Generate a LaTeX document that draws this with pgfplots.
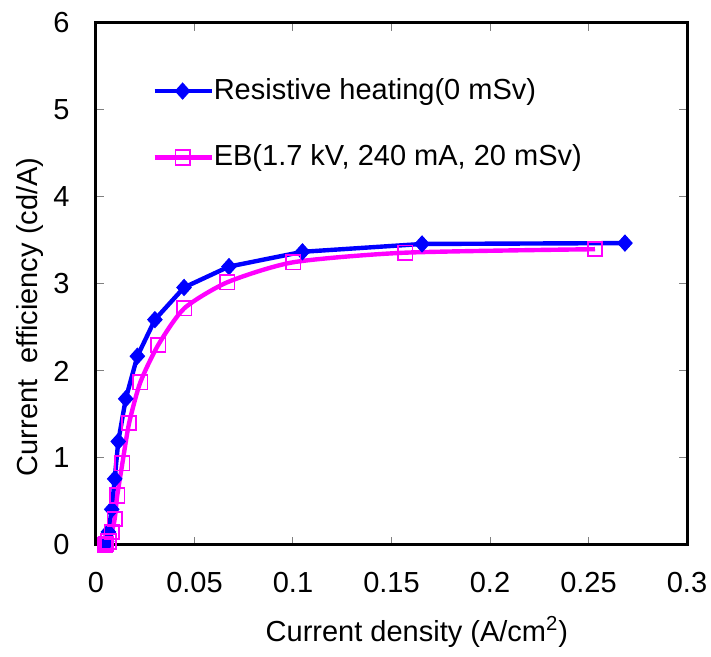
\documentclass[border=0pt]{standalone}
\usepackage{fontspec}
\setmainfont{Liberation Sans}
\usepackage{pgfplots}
\pgfplotsset{compat=1.18}
\definecolor{myblue}{RGB}{0,0,255}
\definecolor{mymag}{RGB}{255,0,255}
\begin{document}
\fontsize{14.5}{17}\selectfont
\begin{tikzpicture}
\begin{axis}[
  scale only axis,
  width=295.5pt, height=261pt,
  xmin=0, xmax=0.3, ymin=0, ymax=6,
  xtick={0,0.05,0.1,0.15,0.2,0.25,0.3},
  ytick={0,1,2,3,4,5,6},
  scaled x ticks=false,
  /pgf/number format/assume math mode=true,
  xticklabel style={/pgf/number format/fixed, /pgf/number format/precision=2, inner sep=0pt, anchor=north, yshift=-13.5pt},
  yticklabel style={inner sep=0pt, anchor=east, xshift=-13pt},
  tick align=inside,
  major tick length=4pt,
  tick style={gray, line width=0.5pt},
  axis line style={line width=1.5pt},
  every axis x label/.style={at={(axis description cs:0.543,-0.1667)}, anchor=center},
  every axis y label/.style={at={(axis description cs:-0.112,0.437)}, anchor=center, rotate=90},
  xlabel={Current density (A/cm\textsuperscript{2})},
  ylabel={Current\ \ efficiency (cd/A)},
  legend cell align=left,
  legend style={draw=none, fill=none, inner sep=0pt, row sep=20.5pt,
    at={(axis description cs:0,1)}, anchor=north west, xshift=28pt, yshift=-27.5pt,
    nodes={inner xsep=0pt, inner ysep=0pt}},
  legend image code/.code={\draw[mark repeat=2,mark phase=2] plot coordinates {(0pt,0pt) (14pt,0pt) (28.5pt,0pt)};},
]
\addplot[myblue, line width=2.2pt, mark=diamond*, mark size=4pt, mark options={solid, line width=0.5pt, xscale=1.2}]
coordinates {
(0.0050,0.01) (0.0054,0.04) (0.0063,0.15) (0.0080,0.41) (0.0095,0.76) (0.0113,1.19) (0.0151,1.68) (0.0210,2.17) (0.0299,2.59) (0.0447,2.96) (0.0675,3.20) (0.1048,3.37) (0.1655,3.46) (0.2685,3.47)
};
\addlegendentry{Resistive heating(0 mSv)}
\addplot[mymag, line width=2.2pt, smooth, tension=0.4, mark=square, mark size=3.6pt, mark options={solid, line width=0.9pt}]
coordinates {
(0.0046,0.00) (0.0050,0.01) (0.0063,0.04) (0.0080,0.15) (0.0095,0.30) (0.0108,0.57) (0.0134,0.94) (0.0168,1.40) (0.0225,1.87) (0.0316,2.30) (0.0448,2.72) (0.0667,3.02) (0.1002,3.25) (0.1570,3.36) (0.2533,3.40)
};
\addlegendentry{EB(1.7 kV, 240 mA, 20 mSv)}
\end{axis}
\path ([shift={(-48pt,-56pt)}]current axis.south west) rectangle ([shift={(12pt,11.5pt)}]current axis.north east);
\end{tikzpicture}
\end{document}
